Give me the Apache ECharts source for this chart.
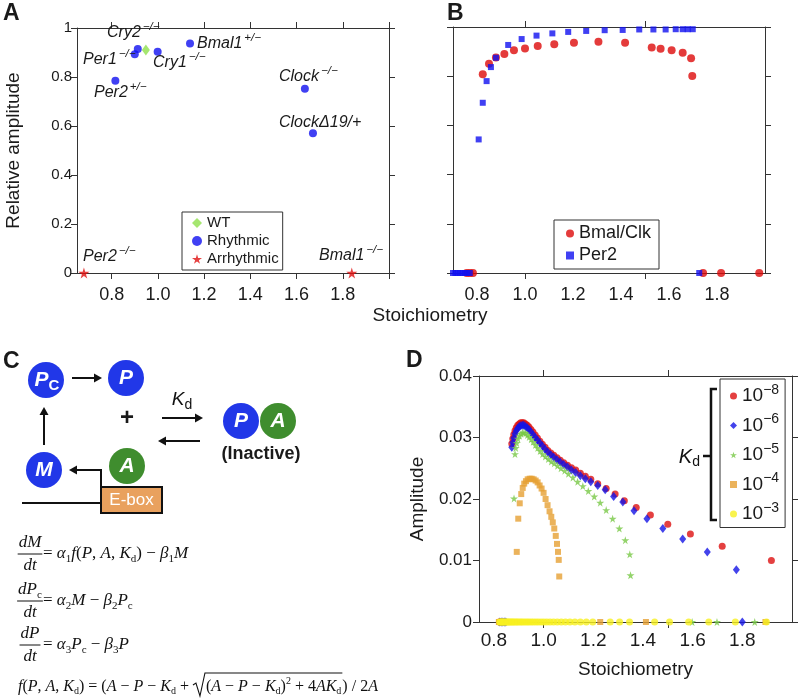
<!DOCTYPE html>
<html><head><meta charset="utf-8">
<script src="https://cdn.jsdelivr.net/npm/echarts@6.0.0/dist/echarts.min.js"></script>
<style>html,body{margin:0;padding:0;background:#fff}#chart{width:798px;height:698px}</style>
</head><body><div id="chart"></div>
<script>
// ---------------- Panel A data ----------------
const aWtX = [0.948];
const aWtY = [0.910];
const aRhythmicX = [0.913, 0.900, 0.999, 1.139, 0.816, 1.636, 1.671];
const aRhythmicY = [0.914, 0.893, 0.903, 0.937, 0.785, 0.752, 0.570];
const aArrhythmicX = [0.680, 1.839];
const aArrhythmicY = [0, 0];
const aXTicks = [0.8, 1.0, 1.2, 1.4, 1.6, 1.8, 2.0];
const aXLabels = [0.8, 1.0, 1.2, 1.4, 1.6, 1.8];
const aLegendNames = ['WT', 'Rhythmic', 'Arrhythmic'];
const aMainTexts = ['Cry2', 'Per1', 'Cry1', 'Bmal1', 'Per2', 'Clock', 'Clock\u039419/+', 'Per2', 'Bmal1'];
const aSupTexts  = ['\u2212/\u2212', '\u2212/\u2212', '\u2212/\u2212', '+/\u2212', '+/\u2212', '\u2212/\u2212', '', '\u2212/\u2212', '\u2212/\u2212'];

// ---------------- Panel B data ----------------
const bBmalX = [0.757, 0.770, 0.783, 0.824, 0.850, 0.879, 0.914, 0.954, 1.000, 1.053, 1.122, 1.204, 1.306, 1.417, 1.528, 1.565, 1.611, 1.657, 1.692, 1.697, 1.742, 1.817, 1.976];
const bBmalY = [0, 0, 0, 0.808, 0.851, 0.876, 0.890, 0.905, 0.913, 0.923, 0.930, 0.936, 0.940, 0.936, 0.917, 0.912, 0.905, 0.895, 0.873, 0.801, 0, 0, 0];
const bPer2X = [0.700, 0.710, 0.720, 0.730, 0.740, 0.750, 0.760, 0.770, 0.807, 0.824, 0.840, 0.858, 0.879, 0.930, 0.986, 1.048, 1.114, 1.180, 1.255, 1.332, 1.407, 1.476, 1.535, 1.586, 1.628, 1.657, 1.678, 1.699, 1.726];
const bPer2Y = [0, 0, 0, 0, 0, 0, 0, 0, 0.543, 0.692, 0.780, 0.837, 0.875, 0.927, 0.951, 0.965, 0.974, 0.980, 0.984, 0.987, 0.988, 0.990, 0.990, 0.990, 0.991, 0.991, 0.991, 0.991, 0];
const bXTicks = [1.0, 1.5];
const bXLabels = [0.8, 1.0, 1.2, 1.4, 1.6, 1.8];
const bLegendNames = ['Bmal/Clk', 'Per2'];

// ---------------- Panel D data ----------------
const dKdNames = ['10^\u22128', '10^\u22126', '10^\u22125', '10^\u22124', '10^\u22123'];
const dKdExponents = ['\u22128', '\u22126', '\u22125', '\u22124', '\u22123'];
const dX8 = [0.822, 0.826, 0.830, 0.834, 0.872, 0.876, 0.880, 0.885, 0.890, 0.896, 0.902, 0.908, 0.914, 0.920, 0.927, 0.934, 0.941, 0.949, 0.957, 0.966, 0.975, 0.985, 0.995, 1.006, 1.017, 1.029, 1.041, 1.054, 1.067, 1.081, 1.096, 1.112, 1.129, 1.148, 1.168, 1.190, 1.218, 1.252, 1.288, 1.325, 1.373, 1.430, 1.500, 1.591, 1.719, 1.917];
const dY8 = [0, 0, 0, 0, 0.0290, 0.0298, 0.0305, 0.0311, 0.0316, 0.0320, 0.0322, 0.0324, 0.0324, 0.0324, 0.0322, 0.0320, 0.0317, 0.0313, 0.0309, 0.0304, 0.0299, 0.0294, 0.0289, 0.0284, 0.0279, 0.0275, 0.0271, 0.0267, 0.0263, 0.0259, 0.0255, 0.0251, 0.0247, 0.0242, 0.0237, 0.0232, 0.0225, 0.0217, 0.0208, 0.0197, 0.0186, 0.0174, 0.0159, 0.0143, 0.0123, 0.0100];
const dX6 = [0.824, 0.830, 0.836, 0.842, 0.848, 0.872, 0.876, 0.880, 0.885, 0.890, 0.896, 0.902, 0.908, 0.914, 0.920, 0.927, 0.934, 0.941, 0.949, 0.957, 0.966, 0.975, 0.985, 0.995, 1.006, 1.017, 1.029, 1.041, 1.054, 1.067, 1.081, 1.096, 1.112, 1.129, 1.148, 1.168, 1.190, 1.218, 1.248, 1.282, 1.319, 1.364, 1.416, 1.480, 1.560, 1.659, 1.776, 1.800];
const dY6 = [0, 0, 0, 0, 0, 0.0284, 0.0292, 0.0299, 0.0306, 0.0311, 0.0315, 0.0318, 0.0319, 0.0320, 0.0320, 0.0318, 0.0316, 0.0313, 0.0309, 0.0305, 0.0300, 0.0296, 0.0291, 0.0286, 0.0281, 0.0276, 0.0272, 0.0268, 0.0264, 0.0260, 0.0256, 0.0252, 0.0247, 0.0243, 0.0238, 0.0233, 0.0228, 0.0222, 0.0215, 0.0204, 0.0195, 0.0181, 0.0168, 0.0152, 0.0135, 0.0114, 0.0085, 0];
const dX5 = [0.826, 0.834, 1.598, 1.698, 1.850, 0.881, 0.885, 0.888, 0.892, 0.897, 0.903, 0.909, 0.915, 0.921, 0.928, 0.935, 0.942, 0.950, 0.958, 0.967, 0.976, 0.986, 0.996, 1.007, 1.019, 1.031, 1.043, 1.056, 1.070, 1.085, 1.100, 1.118, 1.137, 1.158, 1.180, 1.204, 1.228, 1.252, 1.278, 1.305, 1.329, 1.347, 1.350];
const dY5 = [0, 0, 0, 0, 0, 0.0201, 0.0273, 0.0283, 0.0291, 0.0298, 0.0303, 0.0306, 0.0308, 0.0308, 0.0307, 0.0304, 0.0301, 0.0297, 0.0293, 0.0288, 0.0283, 0.0278, 0.0273, 0.0269, 0.0265, 0.0261, 0.0258, 0.0254, 0.0250, 0.0246, 0.0241, 0.0235, 0.0228, 0.0221, 0.0213, 0.0204, 0.0194, 0.0182, 0.0168, 0.0152, 0.0133, 0.0110, 0.0076];
const dX4 = [0.820, 0.825, 1.228, 1.412, 1.893, 0.892, 0.898, 0.904, 0.910, 0.916, 0.922, 0.929, 0.936, 0.944, 0.952, 0.960, 0.968, 0.976, 0.984, 0.992, 1.000, 1.008, 1.016, 1.024, 1.031, 1.037, 1.043, 1.049, 1.054, 1.058, 1.061, 1.063];
const dY4 = [0, 0, 0, 0, 0, 0.0114, 0.0168, 0.0193, 0.0208, 0.0218, 0.0225, 0.0229, 0.0232, 0.0233, 0.0233, 0.0232, 0.0230, 0.0227, 0.0222, 0.0217, 0.0210, 0.0200, 0.0190, 0.0180, 0.0171, 0.0162, 0.0152, 0.0140, 0.0127, 0.0114, 0.0101, 0.0074];
const dX3 = [0.823, 0.826, 0.829, 0.832, 0.835, 0.838, 0.842, 0.846, 0.850, 0.854, 0.858, 0.863, 0.868, 0.873, 0.878, 0.884, 0.890, 0.896, 0.903, 0.910, 0.917, 0.925, 0.933, 0.941, 0.950, 0.959, 0.969, 0.979, 0.990, 1.001, 1.013, 1.026, 1.040, 1.055, 1.071, 1.088, 1.106, 1.126, 1.148, 1.172, 1.198, 1.268, 1.306, 1.346, 1.447, 1.507, 1.584, 1.665, 1.772, 1.897];
const dY3 = [0, 0, 0, 0, 0, 0, 0, 0, 0, 0, 0, 0, 0, 0, 0, 0, 0, 0, 0, 0, 0, 0, 0, 0, 0, 0, 0, 0, 0, 0, 0, 0, 0, 0, 0, 0, 0, 0, 0, 0, 0, 0, 0, 0, 0, 0, 0, 0, 0, 0];
const dXTicks = [1.0, 1.5];
const dXLabels = [0.8, 1.0, 1.2, 1.4, 1.6, 1.8];

// ---------------- helpers ----------------
const SANS = '"Liberation Sans", Arial, sans-serif';
const SERIF = '"Liberation Serif", "Times New Roman", serif';
const STAR = 'path://M50,0 L61,35 L98,35 L68,57 L79,91 L50,70 L21,91 L32,57 L2,35 L39,35 Z';
const zip = (xs, ys) => xs.map((x, i) => [x, ys[i]]);
const AX = { color: '#333', width: 1 };

function xAx(grid, min, max, pos, ticks, labels, fontSize, margin) {
  return {
    type: 'value', gridIndex: grid, min, max, position: pos,
    axisLine: { show: true, onZero: false, lineStyle: AX },
    axisTick: { show: true, inside: false, length: 6, customValues: ticks, lineStyle: AX },
    axisLabel: labels ? { show: true, customValues: labels, fontSize, margin, color: '#1a1a1a', fontFamily: SANS, formatter: v => v.toFixed(1) } : { show: false },
    splitLine: { show: false }
  };
}
function yAx(grid, min, max, interval, pos, fmt, fontSize, margin, name, nameGap) {
  const o = {
    type: 'value', gridIndex: grid, min, max, interval, position: pos,
    axisLine: { show: true, onZero: false, lineStyle: AX },
    axisTick: { show: true, inside: false, length: 6, lineStyle: AX },
    axisLabel: fmt ? { show: true, fontSize, margin, color: '#1a1a1a', fontFamily: SANS, formatter: fmt } : { show: false },
    splitLine: { show: false }
  };
  if (name) {
    o.name = name; o.nameLocation = 'middle'; o.nameGap = nameGap;
    o.nameTextStyle = { fontSize: 19, fontFamily: SANS, color: '#1a1a1a' };
  }
  return o;
}

const G = [];
function T(x, y, text, o) {
  const st = Object.assign({ x, y, text, fill: '#1a1a1a', fontFamily: SANS, fontSize: 16, align: 'left', textAlign: 'left', verticalAlign: 'middle', textVerticalAlign: 'middle' }, o || {});
  if (o && o.align) st.textAlign = o.align;
  G.push({ type: 'text', silent: true, z: 100, style: st });
}
function L(x1, y1, x2, y2, w, c) {
  G.push({ type: 'line', silent: true, z: 100, shape: { x1, y1, x2, y2 }, style: { stroke: c || '#111', lineWidth: w || 1 } });
}
function arrow(x1, y1, x2, y2) {
  const a = Math.atan2(y2 - y1, x2 - x1), h = 8, w = 4.5;
  const bx = x2 - h * Math.cos(a), by = y2 - h * Math.sin(a);
  L(x1, y1, bx, by, 2);
  G.push({ type: 'polygon', silent: true, z: 100, shape: { points: [[x2, y2], [bx + w * Math.sin(a), by - w * Math.cos(a)], [bx - w * Math.sin(a), by + w * Math.cos(a)]] }, style: { fill: '#111' } });
}
const BLUE_C = '#2137e8', GREEN_C = '#3f8d2e', EBOX = '#e9a15e';
function node(cx, cy, fill, main, sub) {
  G.push({ type: 'circle', silent: true, z: 100, shape: { cx, cy, r: 18 }, style: { fill } });
  const text = sub ? '{m|' + main + '}{s|' + sub + '}' : '{m|' + main + '}';
  T(cx + (sub ? 1 : 0), cy, text, {
    align: 'center', fill: '#fff',
    rich: {
      m: { fontSize: 21, fontWeight: 'bold', fontStyle: 'italic', fill: '#fff', fontFamily: SANS, lineHeight: 26 },
      s: { fontSize: 15, fontWeight: 'bold', fill: '#fff', fontFamily: SANS, verticalAlign: 'bottom' }
    }
  });
}
// annotation in panel A
function ann(x, y, main, sup) {
  const text = sup ? '{m|' + main + '}{s|' + sup + '}' : '{m|' + main + '}';
  T(x, y, text, {
    rich: {
      m: { fontSize: 16, fontStyle: 'italic', fontFamily: SANS, fill: '#1a1a1a', lineHeight: 24 },
      s: { fontSize: 11.5, fontStyle: 'italic', fontFamily: SANS, fill: '#1a1a1a', verticalAlign: 'top', padding: [0, 0, 0, 2] }
    }
  });
}
// equations
const mctx = document.createElement('canvas').getContext('2d');
function run(x, y, tokens, size, draw) {
  let cx = x;
  for (const tk of tokens) {
    const t = tk[0], kind = tk[1];
    let sz = size, dy = 0, it = false;
    if (kind === 'i') it = true;
    if (kind === 's') { sz = Math.round(size * 0.62); dy = size * 0.3; }
    if (kind === 'p') { sz = Math.round(size * 0.62); dy = -size * 0.38; }
    mctx.font = (it ? 'italic ' : '') + sz + 'px ' + SERIF;
    if (draw !== false) T(cx, y + dy, t, { fontFamily: SERIF, fontSize: sz, fontStyle: it ? 'italic' : 'normal', fill: '#111' });
    cx += mctx.measureText(t).width;
  }
  return cx;
}
function frac(cx, yBar, num, den, size) {
  const wn = run(0, 0, num, size, false), wd = run(0, 0, den, size, false);
  const w = Math.max(wn, wd);
  run(cx - wn / 2, yBar - 11, num, size);
  run(cx - wd / 2, yBar + 12, den, size);
  L(cx - w / 2 - 1, yBar, cx + w / 2 + 1, yBar, 1);
}

// ----- panel letters and shared texts
T(3, 14, 'A', { fontSize: 23, fontWeight: 'bold' });
T(447, 14, 'B', { fontSize: 23, fontWeight: 'bold' });
T(3, 362, 'C', { fontSize: 23, fontWeight: 'bold' });
T(406, 361, 'D', { fontSize: 23, fontWeight: 'bold' });
T(430, 316, 'Stoichiometry', { fontSize: 19, align: 'center' });

// panel A annotations
const annPos = [[107, 33], [83, 60], [153, 63], [197, 44], [94, 93], [279, 77], [279, 123], [83, 257], [319, 256]];
aMainTexts.forEach((m, i) => ann(annPos[i][0], annPos[i][1], m, aSupTexts[i]));

// panel D: Kd bracket
G.push({ type: 'polyline', silent: true, z: 100, shape: { points: [[717, 389], [711, 389], [711, 520], [717, 520]] }, style: { stroke: '#111', lineWidth: 2.5, fill: null } });
L(703, 456, 711, 456, 2.5);
T(700, 457, '{k|K}{d|d}', { align: 'right', rich: { k: { fontSize: 20, fontStyle: 'italic', fontFamily: SANS, fill: '#111', lineHeight: 24 }, d: { fontSize: 14, fontFamily: SANS, fill: '#111', verticalAlign: 'bottom' } } });

// ----- Panel C diagram
node(46, 380, BLUE_C, 'P', 'C');
node(126, 378, BLUE_C, 'P');
node(241, 421, BLUE_C, 'P');
node(278, 421, GREEN_C, 'A');
node(44, 470, BLUE_C, 'M');
node(127, 466, GREEN_C, 'A');
arrow(72, 378, 102, 378);
arrow(44, 445, 44, 407);
arrow(162, 418, 203, 418);
arrow(200, 441, 158, 441);
T(127, 418, '+', { fontSize: 24, fontWeight: 'bold', align: 'center' });
T(182, 400, '{k|K}{d|d}', { align: 'center', rich: { k: { fontSize: 19, fontStyle: 'italic', fontFamily: SANS, fill: '#111', lineHeight: 24 }, d: { fontSize: 14, fontFamily: SANS, fill: '#111', verticalAlign: 'bottom' } } });
T(261, 454, '(Inactive)', { fontSize: 18, fontWeight: 'bold', align: 'center' });
L(22, 503, 101, 503, 2);
L(101, 488, 101, 470, 2);
arrow(102, 470, 69, 470);
G.push({ type: 'rect', silent: true, z: 100, shape: { x: 101, y: 487, width: 61, height: 26 }, style: { fill: EBOX, stroke: '#111', lineWidth: 2 } });
T(131.5, 500, 'E-box', { fontSize: 17, fill: '#fff', align: 'center' });

// equations
const ES = 17, ES4 = 16;
frac(30, 554, [['dM', 'i']], [['dt', 'i']], ES);
run(43, 554, [['= ', 'n'], ['\u03b1', 'i'], ['1', 's'], ['f', 'i'], ['(', 'n'], ['P', 'i'], [', ', 'n'], ['A', 'i'], [', ', 'n'], ['K', 'i'], ['d', 's'], [')', 'n'], [' \u2212 ', 'n'], ['\u03b2', 'i'], ['1', 's'], ['M', 'i']], ES);
frac(30, 601, [['dP', 'i'], ['c', 's']], [['dt', 'i']], ES);
run(43, 601, [['= ', 'n'], ['\u03b1', 'i'], ['2', 's'], ['M', 'i'], [' \u2212 ', 'n'], ['\u03b2', 'i'], ['2', 's'], ['P', 'i'], ['c', 's']], ES);
frac(30, 645, [['dP', 'i']], [['dt', 'i']], ES);
run(43, 645, [['= ', 'n'], ['\u03b1', 'i'], ['3', 's'], ['P', 'i'], ['c', 's'], [' \u2212 ', 'n'], ['\u03b2', 'i'], ['3', 's'], ['P', 'i']], ES);
let ex = run(18, 687, [['f', 'i'], ['(', 'n'], ['P', 'i'], [', ', 'n'], ['A', 'i'], [', ', 'n'], ['K', 'i'], ['d', 's'], [') = (', 'n'], ['A', 'i'], [' \u2212 ', 'n'], ['P', 'i'], [' \u2212 ', 'n'], ['K', 'i'], ['d', 's'], [' + ', 'n']], ES4);
const rx = ex;
const ex2 = run(rx + 13, 687, [['(', 'n'], ['A', 'i'], [' \u2212 ', 'n'], ['P', 'i'], [' \u2212 ', 'n'], ['K', 'i'], ['d', 's'], [')', 'n'], ['2', 'p'], [' + 4', 'n'], ['AK', 'i'], ['d', 's']], ES4);
G.push({ type: 'polyline', silent: true, z: 100, shape: { points: [[rx, 685], [rx + 3, 683], [rx + 7, 696], [rx + 12, 673], [ex2 + 1, 673]] }, style: { stroke: '#111', lineWidth: 1.1, fill: null } });
run(ex2 + 1, 687, [[') / 2', 'n'], ['A', 'i']], ES4);

// ---------------- option ----------------
const legendBase = { orient: 'vertical', selectedMode: false, backgroundColor: '#fff', borderColor: '#333', borderWidth: 1 };
const option = {
  animation: false,
  backgroundColor: '#fff',
  grid: [
    { left: 77, right: 409, top: 28, bottom: 425, show: false },
    { left: 453, right: 33, top: 27, bottom: 425, show: false },
    { left: 479, right: 6, top: 376, bottom: 76, show: false }
  ],
  xAxis: [
    xAx(0, 0.65, 2.0, 'bottom', aXTicks, aXLabels, 18, 13),
    xAx(0, 0.65, 2.0, 'top', aXTicks, null),
    xAx(1, 0.70, 2.0, 'bottom', bXTicks, null),
    xAx(1, 0.70, 2.0, 'top', bXTicks, null),
    Object.assign(xAx(2, 0.74, 2.0, 'bottom', dXTicks, dXLabels, 19, 9), { name: 'Stoichiometry', nameLocation: 'middle', nameGap: 38, nameTextStyle: { fontSize: 19, fontFamily: SANS, color: '#1a1a1a' } }),
    xAx(2, 0.74, 2.0, 'top', dXTicks, null),
    // label-only axis for panel B
    { type: 'value', gridIndex: 1, min: 0.70, max: 2.0, position: 'bottom', offset: 0,
      axisLine: { show: false }, axisTick: { show: false }, splitLine: { show: false },
      axisLabel: { show: true, customValues: bXLabels, fontSize: 18, margin: 13, color: '#1a1a1a', fontFamily: SANS, formatter: v => v.toFixed(1) } }
  ],
  yAxis: [
    yAx(0, 0, 1, 0.2, 'left', v => (v === 0 ? '0' : v === 1 ? '1' : v.toFixed(1)), 15, 5, 'Relative amplitude', 54),
    yAx(0, 0, 1, 0.2, 'right', null),
    yAx(1, 0, 1, 0.2, 'left', null),
    yAx(1, 0, 1, 0.2, 'right', null),
    yAx(2, 0, 0.04, 0.01, 'left', v => (v === 0 ? '0' : v.toFixed(2)), 17, 7, 'Amplitude', 52),
    yAx(2, 0, 0.04, 0.01, 'right', null)
  ],
  legend: [
    Object.assign({}, legendBase, { left: 182, top: 212, data: aLegendNames, padding: [3, 4, 3, 10], itemGap: 2, itemWidth: 10, itemHeight: 10,
      textStyle: { fontSize: 15, fontFamily: SANS, color: '#1a1a1a', lineHeight: 16 } }),
    Object.assign({}, legendBase, { left: 554, top: 220, data: bLegendNames, padding: [3, 8, 3, 12], itemGap: 1, itemWidth: 8, itemHeight: 8,
      textStyle: { fontSize: 18, fontFamily: SANS, color: '#1a1a1a', lineHeight: 21 } }),
    Object.assign({}, legendBase, { left: 720, top: 379, data: dKdNames, padding: [4, 6, 4, 10], itemGap: 7, itemWidth: 7, itemHeight: 7,
      formatter: n => '{b|10}{s|' + dKdExponents[dKdNames.indexOf(n)] + '}',
      textStyle: { fontSize: 18, fontFamily: SANS, color: '#1a1a1a',
        rich: { b: { fontSize: 19, fontFamily: SANS, fill: '#1a1a1a', lineHeight: 26 }, s: { fontSize: 14, fontFamily: SANS, fill: '#1a1a1a', verticalAlign: 'top' } } } })
  ],
  graphic: { elements: G },
  series: [
    { type: 'scatter', name: 'Rhythmic', xAxisIndex: 0, yAxisIndex: 0, data: zip(aRhythmicX, aRhythmicY), symbol: 'circle', symbolSize: 8, itemStyle: { color: '#1010f0' }, clip: false },
    { type: 'scatter', name: 'WT', xAxisIndex: 0, yAxisIndex: 0, data: zip(aWtX, aWtY), symbol: 'diamond', symbolSize: [8, 11], itemStyle: { color: '#8ee04c' }, clip: false },
    { type: 'scatter', name: 'Arrhythmic', xAxisIndex: 0, yAxisIndex: 0, data: zip(aArrhythmicX, aArrhythmicY), symbol: STAR, symbolSize: 11, itemStyle: { color: '#e01010' }, clip: false },

    { type: 'scatter', name: 'Bmal/Clk', xAxisIndex: 2, yAxisIndex: 2, data: zip(bBmalX, bBmalY), symbol: 'circle', symbolSize: 8, itemStyle: { color: '#dd0a0a' }, clip: false },
    { type: 'scatter', name: 'Per2', xAxisIndex: 2, yAxisIndex: 2, data: zip(bPer2X, bPer2Y), symbol: 'rect', symbolSize: 6, itemStyle: { color: '#1010f0' }, clip: false },

    { type: 'scatter', name: dKdNames[0], xAxisIndex: 4, yAxisIndex: 4, data: zip(dX8, dY8), symbol: 'circle', symbolSize: 7, itemStyle: { color: '#dd1010' }, clip: false },
    { type: 'scatter', name: dKdNames[1], xAxisIndex: 4, yAxisIndex: 4, data: zip(dX6, dY6), symbol: 'diamond', symbolSize: [7, 9], itemStyle: { color: '#1414e6' }, clip: false },
    { type: 'scatter', name: dKdNames[2], xAxisIndex: 4, yAxisIndex: 4, data: zip(dX5, dY5), symbol: STAR, symbolSize: 8, itemStyle: { color: '#78c846' }, clip: false },
    { type: 'scatter', name: dKdNames[3], xAxisIndex: 4, yAxisIndex: 4, data: zip(dX4, dY4), symbol: 'rect', symbolSize: 6, itemStyle: { color: '#e6a033' }, clip: false },
    { type: 'scatter', name: dKdNames[4], xAxisIndex: 4, yAxisIndex: 4, data: zip(dX3, dY3), symbol: 'circle', symbolSize: 7, itemStyle: { color: '#f7f020' }, clip: false }
  ]
};
const chart = echarts.init(document.getElementById('chart'), null, { renderer: 'canvas' });
chart.setOption(option);
</script></body></html>
